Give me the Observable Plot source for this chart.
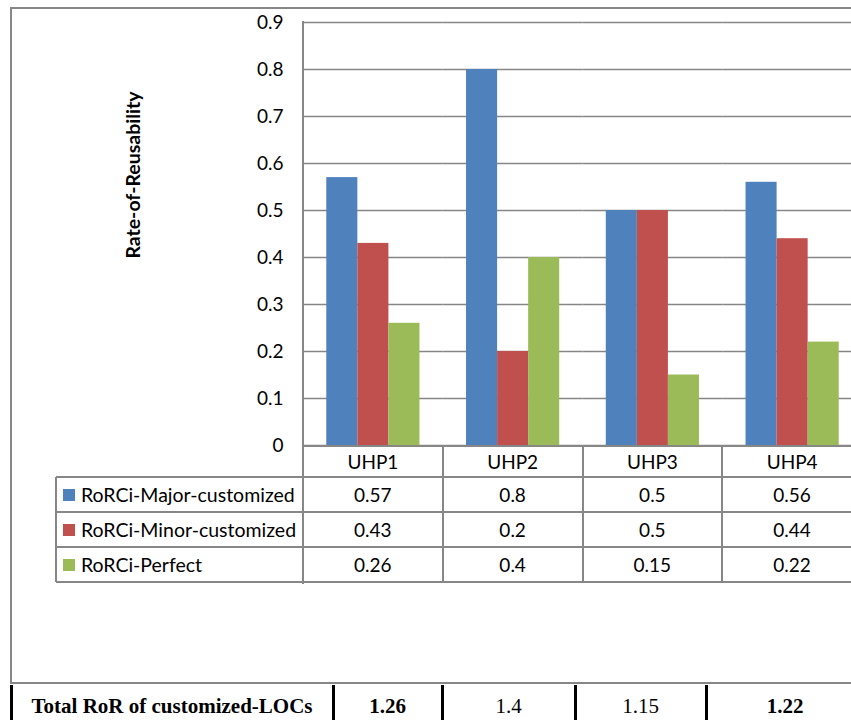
<!DOCTYPE html>
<html><head><meta charset="utf-8">
<script src="https://cdn.jsdelivr.net/npm/d3@7"></script>
<script src="https://cdn.jsdelivr.net/npm/@observablehq/plot@0.6"></script>
<style>
html,body{margin:0;padding:0;background:#fff;overflow:hidden}
#wrap{position:relative;width:851px;height:720px;overflow:hidden;font-family:Lato,"Open Sans",sans-serif;color:#000}
#wrap svg{position:absolute;left:0;top:0}
.ln{position:absolute;background:#878787}
.bk{position:absolute;background:#000}
.cell{position:absolute;display:flex;align-items:center;justify-content:center;white-space:nowrap;font-size:19px;line-height:1}
.lg{position:absolute;display:flex;align-items:center;white-space:nowrap;font-size:19.5px;line-height:1}
.sw{display:inline-block;width:12px;height:12px;margin-right:6px}
.serif{position:absolute;font-family:"Liberation Serif","Times New Roman",serif;font-size:21px;line-height:19px;white-space:nowrap;text-align:center}
</style></head><body><div id="wrap"></div>
<script>
const categories = ["UHP1", "UHP2", "UHP3", "UHP4"];
const seriesNames = ["RoRCi-Major-customized", "RoRCi-Minor-customized", "RoRCi-Perfect"];
const seriesColors = ["#4F81BD", "#C0504D", "#9BBB59"];
const majorValues = [0.57, 0.8, 0.5, 0.56];
const minorValues = [0.43, 0.2, 0.5, 0.44];
const perfectValues = [0.26, 0.4, 0.15, 0.22];
const yTicks = [0, 0.1, 0.2, 0.3, 0.4, 0.5, 0.6, 0.7, 0.8, 0.9];
const yTitle = "Rate-of-Reusability";
const totalLabel = "Total RoR of customized-LOCs";
const totals = [1.26, 1.4, 1.15, 1.22];
const totalsBold = [true, false, false, true];

const seriesValues = [majorValues, minorValues, perfectValues];
const rows = seriesNames.flatMap((s, i) => categories.map((c, j) => ({cat: c, series: s, value: seriesValues[i][j]})));

const chart = Plot.plot({
  width: 851, height: 720,
  marginTop: 22, marginLeft: 303, marginRight: 0, marginBottom: 275,
  style: {fontFamily: "Lato, 'Open Sans', sans-serif", fontSize: "19px", color: "#000", background: "transparent"},
  fx: {domain: categories, range: [303, 862], padding: 0, round: false, axis: null, label: null},
  x: {domain: seriesNames, paddingInner: 0, paddingOuter: 0.75, round: false, axis: null},
  y: {domain: [0, 0.9], range: [445, 22], axis: null},
  color: {domain: seriesNames, range: seriesColors},
  marks: [
    Plot.gridY(yTicks, {stroke: "#868686", strokeOpacity: 1, strokeWidth: 1.6}),
    Plot.barY(rows, {fx: "cat", x: "series", y: "value", fill: "series"}),
    Plot.axisY(yTicks, {anchor: "left", tickSize: 0, tickPadding: 20, fontSize: 19, label: null, tickFormat: d => String(d)})
  ]
});
const wrap = document.getElementById("wrap");
wrap.appendChild(chart);

const fxs = chart.scale("fx");
const ys = chart.scale("y");
const bw = fxs.bandwidth;
const y0 = ys.apply(0);
const colL = c => fxs.apply(c);

function el(cls, l, t, w, h, html, extra) {
  const d = document.createElement("div");
  d.className = cls;
  Object.assign(d.style, {left: l + "px", top: t + "px", width: w + "px", height: h + "px"}, extra || {});
  if (html != null) d.textContent = html;
  wrap.appendChild(d);
  return d;
}

// outer chart frame
el("ln", 10, 7, 841, 2);
el("ln", 10, 7, 2, 677);
el("ln", 10, 682, 841, 2);

// y axis line (continues into data table)
const axX = fxs.range[0];
el("ln", axX - 1, ys.apply(0.9) - 1, 2, 583 - ys.apply(0.9) + 2);

// y title
el("lg", 133, 175, null, null, yTitle, {transform: "translate(-50%,-50%) rotate(-90deg)", fontWeight: "bold", fontSize: "19.5px", width: "auto", height: "auto"});

// data table
const headTop = y0 + 1, headH = 31, rowH = 35, legendL = 56;
const rowTops = [headTop + headH, headTop + headH + rowH, headTop + headH + 2 * rowH, headTop + headH + 3 * rowH];
el("ln", axX, headTop - 1, 851 - axX, 2);
rowTops.forEach(t => el("ln", legendL, t - 1, 851 - legendL, 2));
categories.forEach((c, j) => {
  if (j > 0) el("ln", colL(c) - 1, headTop, 2, rowTops[3] - headTop);
  el("cell", colL(c), headTop, bw, headH, c);
  seriesValues.forEach((vals, i) => el("cell", colL(c), rowTops[i], bw, rowH, String(vals[j])));
});
el("ln", legendL - 1, rowTops[0], 2, rowTops[3] - rowTops[0]);
seriesNames.forEach((s, i) => {
  const d = el("lg", legendL + 7, rowTops[i], axX - legendL - 7, rowH, null);
  const sw = document.createElement("span");
  sw.className = "sw"; sw.style.background = seriesColors[i];
  d.appendChild(sw);
  d.appendChild(document.createTextNode(s));
});

// totals row
const totCols = [[11, 333], [333, 442], [442, 575], [575, 706], [706, 864]];
totCols.forEach(([a]) => el("bk", a - 1, 685, 3, 40));
el("serif", 11, 697, 322, 19, totalLabel, {fontWeight: "bold"});
totals.forEach((v, j) => {
  const [a, b] = totCols[j + 1];
  el("serif", a, 697, b - a, 19, String(v), {fontWeight: totalsBold[j] ? "bold" : "normal"});
});
</script></body></html>
